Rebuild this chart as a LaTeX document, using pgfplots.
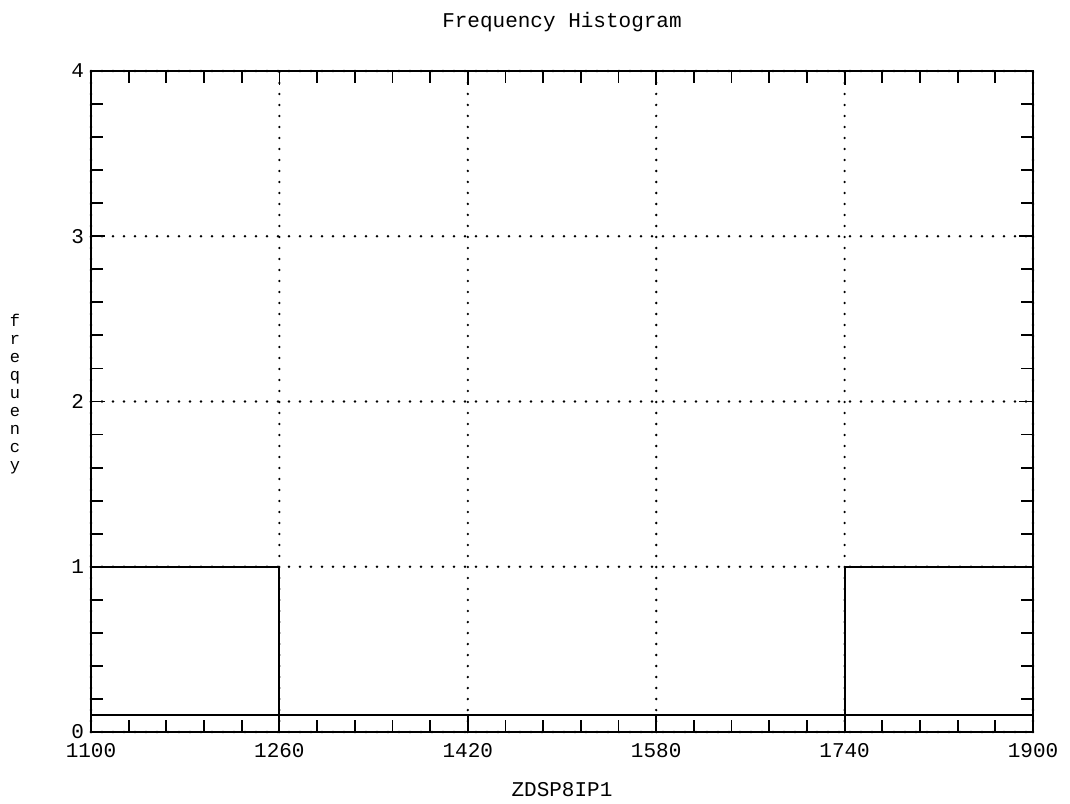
\documentclass[border=0pt]{standalone}
\usepackage{fontspec}
\setmainfont{Liberation Mono}
\usepackage{pgfplots}
\pgfplotsset{compat=1.18}
\begin{document}
\begin{tikzpicture}[x=1pt,y=1pt]
\useasboundingbox (-45.5,-35.5) rectangle (489.5,366);
\begin{axis}[
  at={(0,0)}, anchor=south west,
  scale only axis, width=471pt, height=330.5pt,
  xmin=1100, xmax=1900, ymin=0, ymax=4,
  xtick={1100,1260,1420,1580,1740,1900}, minor x tick num=4,
  ytick={0,1,2,3,4}, minor y tick num=4,
  tick align=inside, major tick length=7pt, minor tick length=6pt,
  tick style={black, line width=0.9pt},
  axis line style={line width=1.3pt},
  xmajorgrids, ymajorgrids,
  major grid style={black, line width=1.3pt, dash pattern=on 0pt off 5.5pt, line cap=round},
  /pgf/number format/assume math mode=true,
  /pgf/number format/set thousands separator={},
  xticklabel style={font=\fontsize{10.5}{12}\selectfont, yshift=-2pt},
  yticklabel style={font=\fontsize{10.5}{12}\selectfont},
  clip=false,
]
\addplot[ybar interval, fill=none, draw=black, line width=1pt]
  coordinates {(1100,1) (1260,0.1) (1420,0.1) (1580,0.1) (1740,1) (1900,1)};
\addplot[black, line width=1pt] coordinates {(1100,0.1) (1900,0.1)};
\node[font=\fontsize{10.5}{12}\selectfont] at (rel axis cs:0.5,1) [yshift=24.5pt] {Frequency Histogram};
\node[font=\fontsize{10.5}{12}\selectfont] at (rel axis cs:0.5,0) [yshift=-29pt] {ZDSP8IP1};
\node[font=\fontsize{8.5}{9}\selectfont, align=center, inner sep=0pt] at (rel axis cs:0,0.5) [xshift=-38pt, yshift=3.5pt] {f\\r\\e\\q\\u\\e\\n\\c\\y};
\end{axis}
\end{tikzpicture}
\end{document}
